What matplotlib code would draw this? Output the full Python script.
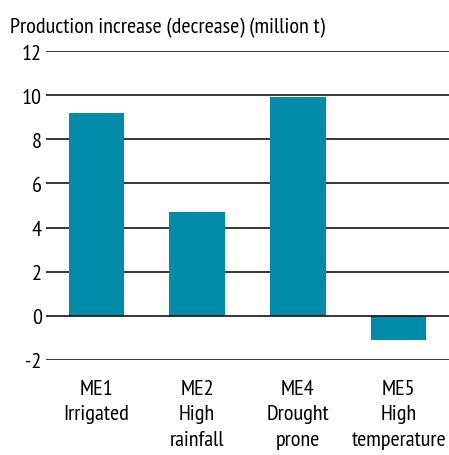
import matplotlib
matplotlib.use("Agg")
import matplotlib.pyplot as plt

categories = ["ME1\nIrrigated", "ME2\nHigh\nrainfall", "ME4\nDrought\nprone", "ME5\nHigh\ntemperature"]
values = [9.2, 4.7, 9.9, -1.1]
yticks = [-2, 0, 2, 4, 6, 8, 10, 12]
title = "Production increase (decrease) (million t)"

plt.rcParams["font.family"] = ["PT Sans Narrow", "Roboto Condensed", "DejaVu Sans"]
FS = 16

fig = plt.figure(figsize=(4.49, 4.56), dpi=100)
ax = fig.add_axes([46/449, (456-361)/456, 1-46/449, (361-52)/456])
ax.set_xlim(-0.5, 3.5)
ax.set_ylim(-2, 12)
for y in yticks:
    ax.axhline(y, color="black", lw=1.1, zorder=1 if y != 0 else 3)
x = range(len(categories))
ax.bar(x, values, width=0.55, color="#008CA8", zorder=2)
for s in ax.spines.values():
    s.set_visible(False)
ax.set_yticks(yticks)
ax.set_yticklabels([str(v) for v in yticks], fontsize=FS)
ax.tick_params(axis="y", length=0, pad=3)
ax.set_xticks(list(x))
ax.set_xticklabels(categories, fontsize=FS, linespacing=1.45)
ax.tick_params(axis="x", length=0, pad=13.5)
fig.text(10/449, 1-28/456, title, fontsize=FS, ha="left", va="center")
fig.savefig("out.png", dpi=100)
